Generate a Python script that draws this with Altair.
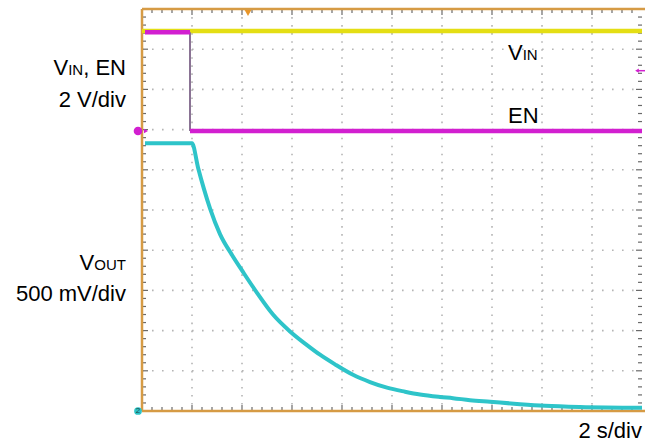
import altair as alt
import pandas as pd

# Scope screen: 10 x 10 divisions, 2 s/div horizontally
sec_per_div = 2.0
n_xdiv = 10
n_ydiv = 10
plot_w = 500
plot_h = 402

# Channel scales (V/div) and ground reference positions (divisions from bottom)
vin_en_scale = 2.0
vout_scale = 0.5
vin_en_ground = 6.965
vout_ground = 0.0

# VIN (yellow)
vin_t = [0.0, 20.0]
vin_v = [4.98, 4.98]

# EN (magenta): high level before the falling edge, low level after it
en_edge_t = 1.92
en_high_t = [0.12, en_edge_t]
en_high_v = [4.91, 4.91]
en_low_t = [en_edge_t, 20.0]
en_low_v = [0.0, 0.0]

# VOUT (cyan) discharge
vout_t = [0.12, 2.0, 2.24, 2.48, 2.72, 3.12, 3.6, 4.08, 4.6, 5.24, 5.92, 6.6,
          7.12, 7.72, 8.44, 9.12, 9.8, 10.52, 11.12, 11.92, 12.44, 13.12,
          13.92, 15.12, 16.12, 17.52, 20.0]
vout_v = [3.33, 3.33, 3.03, 2.76, 2.52, 2.20, 1.94, 1.71, 1.47, 1.20, 0.99, 0.82,
          0.70, 0.58, 0.45, 0.36, 0.29, 0.24, 0.205, 0.175, 0.16, 0.135,
          0.115, 0.085, 0.065, 0.05, 0.04]

trigger_time = 4.24
trigger_level = 3.0  # on EN channel

# Colours
c_vin = "#e4de14"
c_en = "#d21fd0"
c_vout = "#2ec4c9"
c_frame = "#d69b45"
c_grid = "#b5b5b5"
c_tick = "#6a6a6a"

xs = alt.Scale(domain=[0, n_xdiv * sec_per_div])
ys = alt.Scale(domain=[0, n_ydiv])


def to_div(values, ground, scale):
    return [ground + v / scale for v in values]


vin_df = pd.DataFrame({"t": vin_t, "div": to_div(vin_v, vin_en_ground, vin_en_scale)})
en_df = pd.concat([
    pd.DataFrame({"t": en_high_t, "div": to_div(en_high_v, vin_en_ground, vin_en_scale), "seg": "high"}),
    pd.DataFrame({"t": en_low_t, "div": to_div(en_low_v, vin_en_ground, vin_en_scale), "seg": "low"}),
], ignore_index=True)
vout_df = pd.DataFrame({"t": vout_t, "div": to_div(vout_v, vout_ground, vout_scale)})

X = alt.X("t:Q", scale=xs, axis=None)
Y = alt.Y("div:Q", scale=ys, axis=None)

# Dotted graticule
vgrid = pd.DataFrame({"t": [i * sec_per_div for i in range(1, n_xdiv)]})
hgrid = pd.DataFrame({"div": list(range(1, n_ydiv))})
grid_v = alt.Chart(vgrid).mark_rule(color=c_grid, strokeWidth=1.6, strokeDash=[1.6, 6.44]).encode(
    x=X, y=alt.value(0), y2=alt.value(plot_h))
grid_h = alt.Chart(hgrid).mark_rule(color=c_grid, strokeWidth=1.6, strokeDash=[1.6, 8.4]).encode(
    y=Y, x=alt.value(0), x2=alt.value(plot_w))

# Ticks on the frame: 5 per division, longer at each division
xt_minor = pd.DataFrame({"t": [i * sec_per_div / 5 for i in range(1, n_xdiv * 5) if i % 5]})
xt_major = pd.DataFrame({"t": [i * sec_per_div for i in range(1, n_xdiv)]})
yt_minor = pd.DataFrame({"div": [i / 5 for i in range(1, n_ydiv * 5) if i % 5]})
yt_major = pd.DataFrame({"div": list(range(1, n_ydiv))})
tick_style = dict(color=c_tick, strokeWidth=1.2)


def xticks(df, length):
    top = alt.Chart(df).mark_rule(**tick_style).encode(x=X, y=alt.value(0), y2=alt.value(length))
    bot = alt.Chart(df).mark_rule(**tick_style).encode(x=X, y=alt.value(plot_h), y2=alt.value(plot_h - length))
    return [top, bot]


def yticks(df, length):
    left = alt.Chart(df).mark_rule(**tick_style).encode(y=Y, x=alt.value(0), x2=alt.value(length))
    right = alt.Chart(df).mark_rule(**tick_style).encode(y=Y, x=alt.value(plot_w), x2=alt.value(plot_w - length))
    return [left, right]


ticks = xticks(xt_minor, 4) + xticks(xt_major, 6) + yticks(yt_minor, 4) + yticks(yt_major, 6)

one = pd.DataFrame({"k": [0]})
frame_top = alt.Chart(one).mark_rule(color=c_frame, strokeWidth=2.5).encode(
    x=alt.value(0), x2=alt.value(plot_w + 5), y=alt.value(0))
frame_left = alt.Chart(one).mark_rule(color=c_frame, strokeWidth=2.5).encode(
    x=alt.value(0), y=alt.value(0), y2=alt.value(plot_h))
frame_bot = alt.Chart(one).mark_rule(color=c_frame, strokeWidth=2.5).encode(
    x=alt.value(0), x2=alt.value(plot_w + 5), y=alt.value(plot_h))

# Traces
vin_line = alt.Chart(vin_df).mark_line(color=c_vin, strokeWidth=4.5).encode(x=X, y=Y)
en_edge_df = pd.DataFrame({
    "t": [en_edge_t],
    "hi": to_div([en_high_v[-1]], vin_en_ground, vin_en_scale),
    "lo": to_div([en_low_v[0]], vin_en_ground, vin_en_scale),
})
en_edge = alt.Chart(en_edge_df).mark_rule(color="#8a7394", strokeWidth=2).encode(
    x=X, y=alt.Y("hi:Q", scale=ys, axis=None), y2="lo:Q")
en_line = alt.Chart(en_df).mark_line(color=c_en, strokeWidth=4.5).encode(x=X, y=Y, detail="seg:N")
vout_line = alt.Chart(vout_df).mark_line(color=c_vout, strokeWidth=4, interpolate="monotone").encode(x=X, y=Y)

# Channel reference markers
gnd1 = pd.DataFrame({"div": [vin_en_ground]})
gnd2 = pd.DataFrame({"div": [vout_ground]})
m1 = alt.Chart(gnd1).mark_point(shape="circle", filled=True, size=75, color=c_en, opacity=1).encode(
    x=alt.value(-4), y=Y)
m1_arrow = alt.Chart(gnd1).mark_point(shape="triangle-right", filled=True, size=22, color=c_en, opacity=1).encode(
    x=alt.value(4), y=Y)
m2 = alt.Chart(gnd2).mark_point(shape="circle", filled=True, size=60, color=c_vout, opacity=1).encode(
    x=alt.value(-4), y=Y)
m2_txt = alt.Chart(gnd2).mark_text(text="2", fontSize=8, font="Liberation Sans", color="#1a4a4a").encode(
    x=alt.value(-4), y=Y)
trig_df = pd.DataFrame({"t": [trigger_time]})
trig = alt.Chart(trig_df).mark_point(shape="triangle-down", filled=True, size=45, color="#e8962a", opacity=1).encode(
    x=X, y=alt.value(4))
lvl_df = pd.DataFrame({"div": [vin_en_ground + trigger_level / vin_en_scale]})
lvl_arrow = alt.Chart(lvl_df).mark_point(shape="triangle-left", filled=True, size=18, color=c_en, opacity=1).encode(
    x=alt.value(plot_w - 5), y=Y)
lvl_stem = alt.Chart(lvl_df).mark_rule(color=c_en, strokeWidth=1.5).encode(
    x=alt.value(plot_w - 5), x2=alt.value(plot_w + 3), y=Y)

# Text labels (x, y in pixels from the top-left of the screen area)
FONT = "Liberation Sans"
BIG = 22
SUB = 15


def label(text, x, y, size=BIG, align="left"):
    return alt.Chart(one).mark_text(
        text=text, font=FONT, fontSize=size, align=align, baseline="alphabetic", color="#000000"
    ).encode(x=alt.value(x), y=alt.value(y))


labels = [
    label(", EN", -16, 66, align="right"),
    label("IN", -16 - 42.8, 66, SUB, align="right"),
    label("V", -16 - 42.8 - 15.0, 66, align="right"),
    label("2 V/div", -16, 98, align="right"),
    label("OUT", -16, 261, SUB, align="right"),
    label("V", -16 - 31.7, 261, align="right"),
    label("500 mV/div", -16, 292, align="right"),
    label("V", 366, 51),
    label("IN", 366 + 14.7, 51, SUB),
    label("EN", 366, 114),
    label("2 s/div", plot_w, 429, align="right"),
]

chart = alt.layer(
    grid_v, grid_h, *ticks,
    frame_top, frame_left, frame_bot,
    vin_line, en_edge, en_line, vout_line,
    m1, m1_arrow, m2, m2_txt, trig, lvl_stem, lvl_arrow,
    *labels,
).properties(
    width=plot_w, height=plot_h,
    padding={"left": 142, "top": 9, "right": 3, "bottom": 37},
    autosize=alt.AutoSizeParams(type="none"),
    background="#ffffff",
).configure_view(stroke=None)

chart.save("out.html", embed_options={"renderer": "svg", "actions": False})
